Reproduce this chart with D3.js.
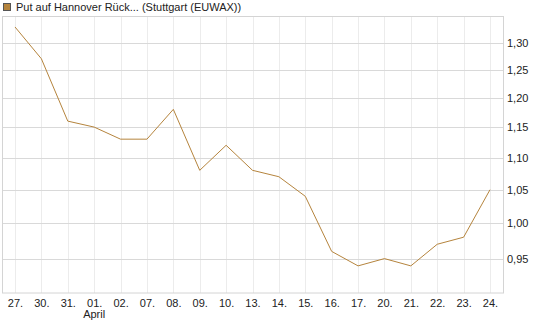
<!DOCTYPE html>
<html lang="de">
<head>
<meta charset="UTF-8">
<title>Put auf Hannover Rück</title>
<script src="https://d3js.org/d3.v7.min.js"></script>
<style>
    body { margin: 0; background: #fff; }
    text { font-family: "Liberation Sans", Arial, sans-serif; font-size: 11px; fill: #222; }
</style>
</head>
<body>
<script>
    // Chart data
    const dates = ["27.", "30.", "31.", "01.", "02.", "07.", "08.", "09.", "10.", "13.",
                   "14.", "15.", "16.", "17.", "20.", "21.", "22.", "23.", "24."];
    const prices = [1.33, 1.27, 1.16, 1.15, 1.13, 1.13, 1.18, 1.08, 1.12, 1.08,
                    1.07, 1.04, 0.96, 0.94, 0.95, 0.94, 0.97, 0.98, 1.05];
    const yTicks = [0.95, 1.00, 1.05, 1.10, 1.15, 1.20, 1.25, 1.30];
    const monthLabels = [{ at: "01.", text: "April" }];
    const title = "Put auf Hannover Rück... (Stuttgart (EUWAX))";

    const width = 545, height = 327;
    const plotL = 2, plotR = 503, plotT = 16.5, plotB = 293;
    const lineColor = "#b5843d";

    const svg = d3.select("body").append("svg")
        .attr("width", width)
        .attr("height", height);

    const x = d3.scalePoint()
        .domain(dates)
        .range([15, 490]);

    // log scale, fitted to the tick positions of the original
    const y = d3.scaleLog()
        .domain([0.9037, 1.3504])
        .range([plotB, plotT]);

    // vertical grid
    svg.append("g")
        .selectAll("line")
        .data(dates)
        .join("line")
        .attr("x1", d => Math.round(x(d)) + 0.5)
        .attr("x2", d => Math.round(x(d)) + 0.5)
        .attr("y1", plotT)
        .attr("y2", plotB)
        .attr("stroke", "#ececec");

    // horizontal grid
    svg.append("g")
        .selectAll("line")
        .data(yTicks)
        .join("line")
        .attr("x1", plotL)
        .attr("x2", plotR)
        .attr("y1", d => Math.round(y(d)) + 0.5)
        .attr("y2", d => Math.round(y(d)) + 0.5)
        .attr("stroke", "#d9d9d9");

    // plot frame
    svg.append("rect")
        .attr("x", plotL + 0.5)
        .attr("y", plotT)
        .attr("width", plotR - plotL)
        .attr("height", plotB - plotT)
        .attr("fill", "none")
        .attr("stroke", "#d4d4d4");

    // y axis labels (right)
    const yAxis = d3.axisRight(y)
        .tickValues(yTicks)
        .tickSize(0)
        .tickPadding(4)
        .tickFormat(d => d3.format(".2f")(d).replace(".", ","));
    svg.append("g")
        .attr("transform", `translate(${plotR},0)`)
        .call(yAxis)
        .call(g => g.select(".domain").remove())
        .selectAll("text")
        .attr("font-family", "Liberation Sans, Arial, sans-serif")
        .attr("font-size", 11)
        .attr("fill", "#222");

    // x axis labels
    const xAxis = d3.axisBottom(x).tickSize(0).tickPadding(6);
    svg.append("g")
        .attr("transform", `translate(0,${plotB})`)
        .call(xAxis)
        .call(g => g.select(".domain").remove())
        .selectAll("text")
        .attr("font-family", "Liberation Sans, Arial, sans-serif")
        .attr("font-size", 11)
        .attr("fill", "#222");

    svg.append("g")
        .selectAll("text")
        .data(monthLabels)
        .join("text")
        .attr("x", d => x(d.at))
        .attr("y", 318)
        .attr("text-anchor", "middle")
        .text(d => d.text);

    // price line
    const line = d3.line()
        .x((d, i) => x(dates[i]))
        .y(d => y(d));
    svg.append("path")
        .datum(prices)
        .attr("d", line)
        .attr("fill", "none")
        .attr("stroke", lineColor)
        .attr("stroke-width", 1);

    // legend
    svg.append("rect")
        .attr("x", 3.5)
        .attr("y", 3.5)
        .attr("width", 7)
        .attr("height", 7)
        .attr("fill", lineColor)
        .attr("stroke", "#555");
    svg.append("text")
        .attr("x", 16)
        .attr("y", 11)
        .text(title);
</script>
</body>
</html>
